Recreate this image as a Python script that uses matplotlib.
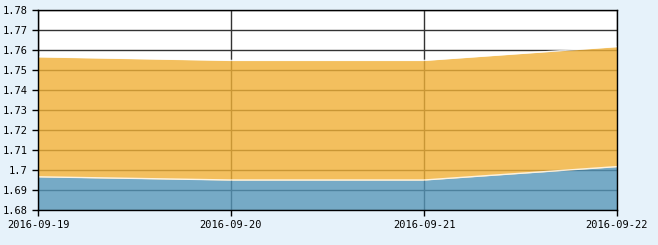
import matplotlib
matplotlib.use("Agg")
import matplotlib.pyplot as plt

# values
dates = ["2016-09-19", "2016-09-20", "2016-09-21", "2016-09-22"]
lower = [1.6966, 1.6950, 1.6950, 1.7017]
upper = [1.7566, 1.7548, 1.7548, 1.7617]
y_ticks = [1.68, 1.69, 1.70, 1.71, 1.72, 1.73, 1.74, 1.75, 1.76, 1.77, 1.78]
y_labels = ["1.68", "1.69", "1.7", "1.71", "1.72", "1.73", "1.74", "1.75", "1.76", "1.77", "1.78"]

bg = "#E6F2FA"
fig = plt.figure(figsize=(6.58, 2.45), dpi=100, facecolor=bg)
ax = fig.add_axes([38 / 658, 35 / 245, 579 / 658, 200 / 245])
ax.set_facecolor("white")

x = list(range(len(dates)))
ax.fill_between(x, 1.68, lower, color="#5495B8", alpha=0.8, lw=0, zorder=3)
ax.fill_between(x, lower, upper, color="#F0B036", alpha=0.8, lw=0, zorder=3)
ax.plot(x, lower, color="white", lw=1, alpha=0.8, zorder=4)
ax.plot(x, upper, color="white", lw=1, alpha=0.8, zorder=4)

ax.set_xlim(0, len(dates) - 1)
ax.set_ylim(1.68, 1.78)
ax.set_xticks(x)
ax.set_xticklabels(dates)
ax.set_yticks(y_ticks)
ax.set_yticklabels(y_labels)

ax.grid(True, color="#333333", lw=1, zorder=1)
ax.set_axisbelow(True)

for side in ["top", "right", "left", "bottom"]:
    ax.spines[side].set_color("black")
    ax.spines[side].set_linewidth(1)
    ax.spines[side].set_zorder(5)

ax.tick_params(axis="both", direction="out", length=4, width=1, color="black",
               labelsize=7.5, labelcolor="black")
for lab in ax.get_xticklabels() + ax.get_yticklabels():
    lab.set_family("DejaVu Sans Mono")

fig.savefig("out.png", dpi=100, facecolor=bg)
